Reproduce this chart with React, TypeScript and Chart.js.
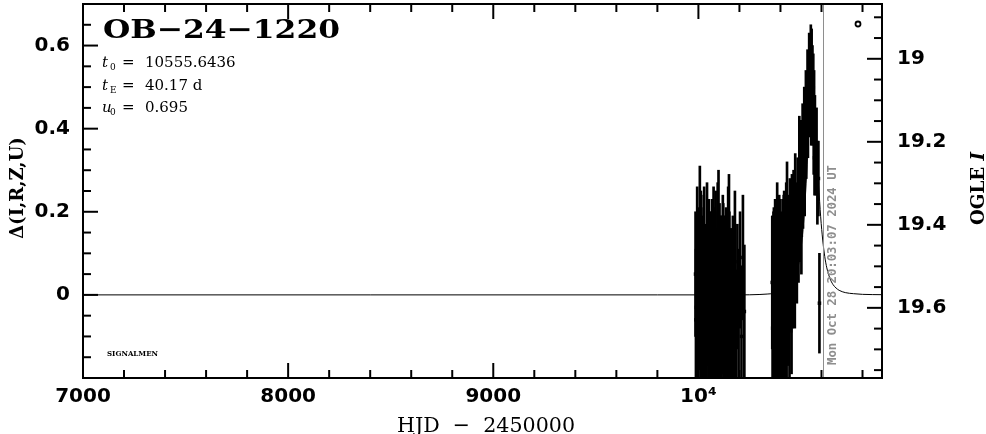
import React, { useEffect, useRef } from 'react';
import { Chart, registerables } from 'chart.js';

Chart.register(...registerables);

// ---- 2023 season observations (HJD - 2450000, Δ mag, error) ----
const s1T = [
  9986, 9990, 9994, 9998, 10003, 10007, 10010, 10014, 10018, 10022,
  10026, 10030, 10034, 10038, 10042, 10046, 10050, 10054, 10058, 10062,
  10066, 10070, 10074, 10078, 10082, 10086, 10090, 10094, 10098, 10101,
  10105, 10109, 10113, 10117, 10121, 10125, 10129, 10133, 10137, 10141,
  10145, 10149, 10153, 10158, 10163, 10168, 10173, 10178, 10184, 10190,
  10196, 10203, 10210, 10217, 10224,
  9988, 9992, 9996, 10000, 10005, 10012, 10016, 10020, 10024, 10028,
  10032, 10036, 10040, 10044, 10048, 10052, 10056, 10060, 10064, 10068,
  10072, 10076, 10080, 10084, 10088, 10092, 10096, 10103, 10107, 10111,
  10115, 10119, 10123, 10127, 10131, 10135, 10139, 10143, 10147, 10151,
];
const s1D = [
  0.05, -0.03, 0.12, -0.08, 0.02, 0.15, -0.05, 0.06, -0.12, 0.0,
  0.08, -0.1, 0.03, -0.06, 0.1, -0.02, -0.14, 0.04, 0.07, -0.09,
  0.01, -0.04, 0.09, -0.11, 0.05, -0.07, 0.02, 0.11, 0.13, -0.03,
  -0.1, 0.06, -0.05, 0.0, 0.08, -0.13, -0.02, 0.04, -0.08, 0.03,
  0.1, 0.12, -0.06, 0.01, -0.09, 0.05, -0.03, 0.08, -0.12, 0.02,
  -0.05, 0.06, -0.1, 0.09, -0.04,
  -0.06, 0.04, -0.11, 0.07, -0.02, 0.1, -0.09, 0.03, -0.05, 0.12,
  -0.13, 0.01, -0.07, 0.06, -0.01, 0.09, -0.1, 0.02, -0.04, 0.08,
  -0.12, 0.05, -0.03, 0.11, -0.08, 0.0, -0.06, 0.07, -0.11, 0.03,
  -0.02, 0.1, -0.09, 0.04, -0.05, 0.06, -0.13, 0.02, -0.07, 0.05,
];
const s1E = [
  0.15, 0.18, 0.14, 0.16, 0.13, 0.16, 0.19, 0.15, 0.17, 0.14,
  0.16, 0.18, 0.13, 0.15, 0.17, 0.14, 0.19, 0.16, 0.13, 0.18,
  0.15, 0.14, 0.17, 0.16, 0.15, 0.18, 0.14, 0.16, 0.17, 0.15,
  0.19, 0.13, 0.16, 0.15, 0.14, 0.18, 0.16, 0.15, 0.17, 0.14,
  0.16, 0.17, 0.18, 0.15, 0.16, 0.14, 0.17, 0.17, 0.18, 0.15,
  0.16, 0.14, 0.17, 0.15, 0.16,
  0.17, 0.15, 0.18, 0.14, 0.16, 0.15, 0.19, 0.16, 0.17, 0.14,
  0.2, 0.16, 0.17, 0.15, 0.16, 0.14, 0.18, 0.15, 0.17, 0.15,
  0.19, 0.16, 0.17, 0.14, 0.18, 0.16, 0.17, 0.15, 0.19, 0.16,
  0.17, 0.14, 0.18, 0.15, 0.17, 0.15, 0.19, 0.16, 0.18, 0.15,
];

// ---- 2024 season observations ----
const s2T = [
  10360, 10364, 10368, 10372, 10376, 10380, 10384, 10388, 10392, 10396,
  10400, 10404, 10408, 10412, 10416, 10420, 10424, 10428, 10432, 10436,
  10440, 10444, 10448, 10452, 10456, 10460, 10464, 10468, 10472, 10476,
  10480, 10484, 10488, 10492, 10496, 10500, 10504, 10508, 10512, 10516,
  10520, 10524, 10528, 10532, 10536, 10540, 10544, 10548, 10552, 10556,
  10560, 10564, 10568, 10572, 10576, 10580, 10585, 10590,
  10362, 10366, 10370, 10374, 10378, 10382, 10386, 10390, 10394, 10398,
  10402, 10406, 10410, 10414, 10418, 10422, 10426, 10430, 10434, 10438,
  10446, 10454, 10462, 10470,
  10502, 10510, 10518, 10526, 10534, 10542, 10546, 10550, 10554, 10558, 10562, 10566,
];
const s2D = [
  0.03, -0.05, 0.06, -0.02, 0.08, 0.0, 0.1, -0.06, 0.04, 0.07,
  -0.03, 0.05, -0.08, 0.02, 0.09, -0.01, 0.06, 0.12, 0.15, 0.03,
  0.08, -0.04, 0.1, 0.05, 0.13, 0.07, 0.16, 0.11, 0.2, 0.14,
  0.12, 0.2, 0.15, 0.26, 0.2, 0.3, 0.25, 0.35, 0.32, 0.4,
  0.38, 0.45, 0.43, 0.5, 0.47, 0.55, 0.52, 0.58, 0.56, 0.53,
  0.5, 0.46, 0.4, 0.32, 0.36, 0.27, 0.28, -0.02,
  -0.08, 0.05, -0.1, 0.09, -0.04, 0.06, -0.12, 0.02, 0.1, -0.07,
  0.04, -0.09, 0.08, -0.03, 0.11, -0.06, 0.03, -0.11, 0.07, 0.0,
  0.12, -0.02, 0.09, 0.06,
  0.18, 0.28, 0.3, 0.38, 0.42, 0.47, 0.5, 0.45, 0.48, 0.44, 0.38, 0.33,
];
const s2E = [
  0.16, 0.18, 0.15, 0.17, 0.14, 0.16, 0.17, 0.19, 0.15, 0.16,
  0.18, 0.14, 0.17, 0.16, 0.15, 0.18, 0.16, 0.15, 0.17, 0.14,
  0.16, 0.18, 0.15, 0.14, 0.16, 0.15, 0.14, 0.15, 0.14, 0.13,
  0.14, 0.13, 0.12, 0.17, 0.12, 0.12, 0.11, 0.11, 0.10, 0.10,
  0.10, 0.09, 0.09, 0.09, 0.08, 0.08, 0.08, 0.07, 0.08, 0.07,
  0.08, 0.08, 0.08, 0.08, 0.09, 0.1, 0.09, 0.12,
  0.18, 0.15, 0.19, 0.14, 0.17, 0.15, 0.19, 0.16, 0.14, 0.18,
  0.16, 0.19, 0.15, 0.17, 0.14, 0.18, 0.16, 0.19, 0.15, 0.17,
  0.16, 0.17, 0.15, 0.14,
  0.13, 0.12, 0.11, 0.1, 0.09, 0.09, 0.08, 0.09, 0.08, 0.08, 0.09, 0.09,
];

// ---- model curve ----
const modelT = [
  7000, 9800, 10200, 10300, 10335, 10395, 10425, 10455, 10485, 10495,
  10505, 10515, 10525, 10535, 10545, 10555.6, 10566, 10576, 10586, 10596,
  10606, 10616, 10626, 10641, 10656, 10671, 10686, 10716, 10756, 10800, 10895,
];
const modelD = [
  0, 0, 0, 0.001, 0.002, 0.0055, 0.011, 0.025, 0.065, 0.092,
  0.132, 0.188, 0.267, 0.364, 0.458, 0.5, 0.458, 0.364, 0.267, 0.188,
  0.132, 0.092, 0.065, 0.04, 0.025, 0.0166, 0.011, 0.0055, 0.0029, 0.0013, 0.0005,
];

// ---- axes / ticks ----
const xMajorTicks = [7000, 8000, 9000, 10000];
const xTickLabels = ['7000', '8000', '9000', '10\u2074'];
const yMajorTicks = [0, 0.2, 0.4, 0.6];
const yTickLabels = ['0', '0.2', '0.4', '0.6'];
const y2MajorTicks = [19, 19.2, 19.4, 19.6];
const y2TickLabels = ['19', '19.2', '19.4', '19.6'];

const X_MIN = 7000, X_MAX = 10895;
const Y_MIN = -0.2, Y_MAX = 0.7;
const I_TOP = 18.868, I_BOT = 19.769;

const nowHJD = 10607;
const nowLabel = 'Mon Oct 28 20:03:07 2024 UT';
const eventName = 'OB\u221224\u22121220';
const paramSyms = ['t', 't', 'u'];
const paramSubs = ['0', 'E', '0'];
const paramVals = ['10555.6436', '40.17 d', '0.695'];

function findMajor(v: number, majors: number[]) {
  for (let i = 0; i < majors.length; i++) if (Math.abs(v - majors[i]) < 1e-6) return i;
  return -1;
}
function labelFor(v: number, majors: number[], labels: string[]) {
  const i = findMajor(v, majors);
  return i >= 0 ? labels[i] : '';
}

function fitText(ctx: CanvasRenderingContext2D, text: string, x: number, y: number, width: number) {
  const w = ctx.measureText(text).width;
  ctx.save();
  ctx.translate(x, y);
  ctx.scale(width / w, 1);
  ctx.fillText(text, 0, 0);
  ctx.restore();
}

const zeroPad = (s: any) => {
  s.paddingTop = 0; s.paddingBottom = 0; s.paddingLeft = 0; s.paddingRight = 0;
};

const decor = {
  id: 'decor',
  afterDatasetsDraw(chart: any) {
    const { ctx, chartArea: a, scales } = chart;
    const px = Math.round(scales.x.getPixelForValue(nowHJD)) + 0.5;
    ctx.save();
    ctx.strokeStyle = '#8e8e8e';
    ctx.lineWidth = 1;
    ctx.beginPath();
    ctx.moveTo(px, a.top);
    ctx.lineTo(px, a.bottom);
    ctx.stroke();
    ctx.fillStyle = '#8e8e8e';
    ctx.font = 'bold 12px "DejaVu Sans Mono"';
    ctx.textAlign = 'left';
    ctx.textBaseline = 'alphabetic';
    ctx.translate(px + 12, 365);
    ctx.rotate(-Math.PI / 2);
    fitText(ctx, nowLabel, 0, 0, 200);
    ctx.restore();
  },
  afterDraw(chart: any) {
    const { ctx, chartArea: a, scales } = chart;
    ctx.save();
    ctx.strokeStyle = '#000';
    ctx.fillStyle = '#000';
    ctx.lineWidth = 2;
    ctx.strokeRect(a.left, a.top, a.right - a.left, a.bottom - a.top);

    const line = (x1: number, y1: number, x2: number, y2: number) => {
      ctx.beginPath(); ctx.moveTo(x1, y1); ctx.lineTo(x2, y2); ctx.stroke();
    };
    ctx.lineWidth = 2;
    scales.x.ticks.forEach((t: any) => {
      const p = scales.x.getPixelForValue(t.value);
      const L = findMajor(t.value, xMajorTicks) >= 0 ? 15 : 8;
      line(p, a.bottom, p, a.bottom - L);
      line(p, a.top, p, a.top + L);
    });
    scales.y.ticks.forEach((t: any) => {
      const p = scales.y.getPixelForValue(t.value);
      const L = findMajor(t.value, yMajorTicks) >= 0 ? 15 : 8;
      line(a.left, p, a.left + L, p);
    });
    scales.y2.ticks.forEach((t: any) => {
      const p = scales.y2.getPixelForValue(t.value);
      const L = findMajor(t.value, y2MajorTicks) >= 0 ? 15 : 8;
      line(a.right, p, a.right - L, p);
    });

    ctx.textAlign = 'left';
    ctx.textBaseline = 'alphabetic';
    ctx.font = 'bold 26px "DejaVu Serif"';
    fitText(ctx, eventName, 103, 38, 237);

    const rows = [67, 90, 112];
    for (let i = 0; i < 3; i++) {
      const b = rows[i];
      ctx.font = 'italic 15px "DejaVu Serif"';
      ctx.fillText(paramSyms[i], 102, b);
      ctx.font = '9px "DejaVu Serif"';
      ctx.fillText(paramSubs[i], 110, b + 3);
      ctx.font = '15px "DejaVu Serif"';
      ctx.fillText('=', 122, b);
      ctx.fillText(paramVals[i], 145, b);
    }

    ctx.font = 'bold 8px "DejaVu Serif"';
    fitText(ctx, 'SIGNALMEN', 107, 356, 51);

    ctx.lineWidth = 1.8;
    ctx.beginPath();
    ctx.arc(858, 24, 2.5, 0, Math.PI * 2);
    ctx.stroke();

    ctx.font = '21px "DejaVu Serif"';
    fitText(ctx, 'HJD  \u2212  2450000', 397, 432, 178);

    ctx.save();
    ctx.translate(23, 188);
    ctx.rotate(-Math.PI / 2);
    ctx.font = 'bold 18px "DejaVu Serif"';
    ctx.textAlign = 'center';
    ctx.fillText('\u0394(I,R,Z,U)', 0, 0);
    ctx.restore();

    ctx.save();
    ctx.translate(984, 188.5);
    ctx.rotate(-Math.PI / 2);
    ctx.textAlign = 'left';
    ctx.font = 'bold 18px "DejaVu Serif"';
    const p1 = 'OGLE ';
    const w1 = ctx.measureText(p1).width;
    ctx.font = 'italic bold 18px "DejaVu Serif"';
    const w2 = ctx.measureText('I').width;
    const total = w1 + w2;
    ctx.scale(73 / total, 1);
    ctx.font = 'bold 18px "DejaVu Serif"';
    ctx.fillText(p1, -total / 2, 0);
    ctx.font = 'italic bold 18px "DejaVu Serif"';
    ctx.fillText('I', -total / 2 + w1, 0);
    ctx.restore();

    ctx.restore();
  },
};

export default function App() {
  const ref = useRef<HTMLCanvasElement | null>(null);
  useEffect(() => {
    if (!ref.current) return;
    const T = [...s1T, ...s2T];
    const D = [...s1D, ...s2D];
    const E = [...s1E, ...s2E];
    const points = T.map((t, i) => ({ x: t, y: D[i] }));
    const bars = T.map((t, i) => ({ x: t, y: [D[i] - E[i], D[i] + E[i]] }));
    const model = modelT.map((t, i) => ({ x: t, y: modelD[i] }));
    const tickFont = { family: '"DejaVu Sans"', weight: 'bold' as const, size: 20 };
    const chart = new Chart(ref.current, {
      type: 'scatter',
      data: {
        datasets: [
          {
            type: 'scatter', data: points, pointStyle: 'rect', pointRadius: 2.5,
            backgroundColor: '#000', borderWidth: 0, order: 1,
          } as any,
          {
            type: 'bar', data: bars, backgroundColor: '#000', borderWidth: 0,
            barThickness: 2, grouped: false, order: 2,
          } as any,
          {
            type: 'line', data: model, borderColor: '#000', borderWidth: 1, pointRadius: 0,
            cubicInterpolationMode: 'monotone', fill: false, order: 3,
          } as any,
        ],
      },
      options: {
        animation: false,
        responsive: false,
        devicePixelRatio: 1,
        layout: { padding: { top: 3, left: 0, right: 0, bottom: 0 } },
        plugins: { legend: { display: false }, tooltip: { enabled: false } },
        scales: {
          x: {
            type: 'linear', position: 'bottom', min: X_MIN, max: X_MAX, offset: false,
            grid: { display: false, drawTicks: false }, border: { display: false },
            ticks: {
              stepSize: 200, includeBounds: false, autoSkip: false, maxRotation: 0, minRotation: 0,
              padding: 7, color: '#000', font: tickFont,
              callback: (v: any) => labelFor(Number(v), xMajorTicks, xTickLabels),
            },
            afterFit: (s: any) => { s.height = 56; zeroPad(s); },
          },
          y: {
            type: 'linear', position: 'left', min: Y_MIN, max: Y_MAX,
            grid: { display: false, drawTicks: false }, border: { display: false },
            ticks: {
              stepSize: 0.05, includeBounds: false, autoSkip: false, padding: 13, color: '#000', font: tickFont,
              callback: (v: any) => labelFor(Number(v), yMajorTicks, yTickLabels),
            },
            afterFit: (s: any) => { s.width = 83; zeroPad(s); },
          },
          y2: {
            type: 'linear', position: 'right', min: I_TOP, max: I_BOT, reverse: true,
            grid: { display: false, drawTicks: false }, border: { display: false },
            ticks: {
              stepSize: 0.05, includeBounds: false, autoSkip: false, padding: 15, color: '#000', font: tickFont,
              callback: (v: any) => labelFor(Number(v), y2MajorTicks, y2TickLabels),
            },
            afterFit: (s: any) => { s.width = 104; zeroPad(s); },
          },
        },
      } as any,
      plugins: [decor],
    });
    return () => chart.destroy();
  }, []);
  return (
    <div style={{ position: 'fixed', left: 0, top: 0, width: 986, height: 434, background: '#fff' }}>
      <canvas ref={ref} width={986} height={434} />
    </div>
  );
}
